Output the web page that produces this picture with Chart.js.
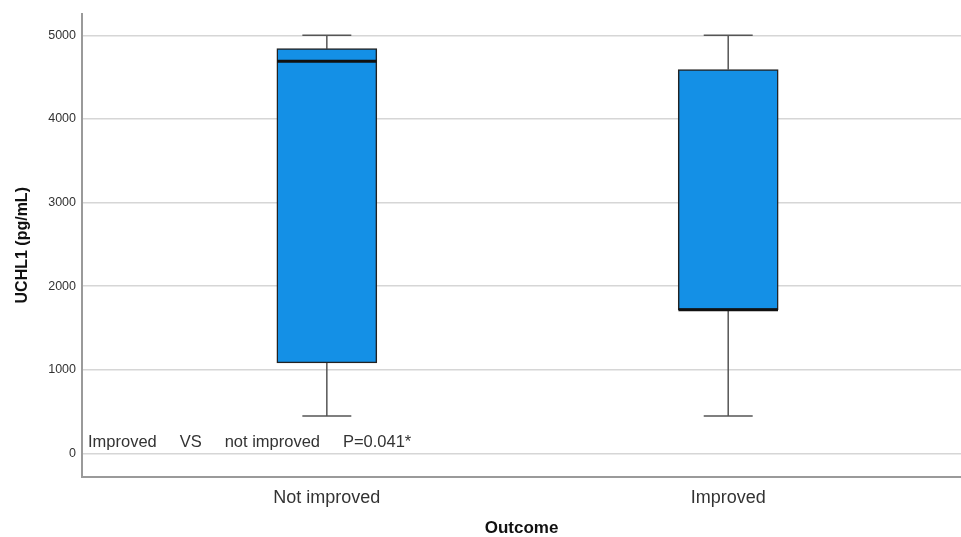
<!DOCTYPE html>
<html lang="en">
<head>
    <meta charset="UTF-8">
    <title>UCHL1 by Outcome</title>
    <script src="https://cdnjs.cloudflare.com/ajax/libs/Chart.js/4.4.1/chart.umd.js"></script>
    <style>
        body {
            margin: 0;
            background: #ffffff;
        }
        .chart-wrap {
            width: 961px;
            height: 537px;
        }
    </style>
</head>
<body>
    <div class="chart-wrap">
        <canvas id="boxChart" width="961" height="537"></canvas>
    </div>

    <script>
        // Box plot values (pg/mL)
        const categories = ['Not improved', 'Improved'];
        const whiskerMin = [450, 450];
        const q1 = [1085, 1720];
        const median = [4690, 1720];
        const q3 = [4840, 4590];
        const whiskerMax = [5000, 5000];
        const yTicks = [0, 1000, 2000, 3000, 4000, 5000];
        const note = 'Improved     VS     not improved     P=0.041*';

        const capHalf = 0.061;
        const boxHalf = 0.124;

        // whiskers: stems and caps, separated by gaps
        const whiskerPoints = [];
        categories.forEach((c, i) => {
            whiskerPoints.push({x: i, y: q3[i]}, {x: i, y: whiskerMax[i]}, {x: i, y: null});
            whiskerPoints.push({x: i, y: q1[i]}, {x: i, y: whiskerMin[i]}, {x: i, y: null});
            whiskerPoints.push({x: i - capHalf, y: whiskerMax[i]}, {x: i + capHalf, y: whiskerMax[i]}, {x: i, y: null});
            whiskerPoints.push({x: i - capHalf, y: whiskerMin[i]}, {x: i + capHalf, y: whiskerMin[i]}, {x: i, y: null});
        });

        const medianPoints = [];
        categories.forEach((c, i) => {
            medianPoints.push({x: i - boxHalf, y: median[i]}, {x: i + boxHalf, y: median[i]}, {x: i, y: null});
        });

        const noteText = {
            id: 'noteText',
            afterDatasetsDraw(chart) {
                const ctx = chart.ctx;
                const y = chart.scales.y.getPixelForValue(130);
                ctx.save();
                ctx.font = '16.5px "Liberation Sans", Arial, sans-serif';
                ctx.fillStyle = '#333333';
                ctx.textBaseline = 'middle';
                ctx.fillText(note, chart.chartArea.left + 6, y);
                ctx.restore();
            }
        };

        Chart.defaults.font.family = '"Liberation Sans", Arial, sans-serif';

        new Chart(document.getElementById('boxChart'), {
            type: 'bar',
            data: {
                datasets: [
                    {
                        type: 'line',
                        data: medianPoints,
                        borderColor: '#111111',
                        borderWidth: 3,
                        pointRadius: 0,
                        spanGaps: false,
                        order: 0
                    },
                    {
                        type: 'bar',
                        data: categories.map((c, i) => ({x: i, y: [q1[i], q3[i]]})),
                        backgroundColor: '#1490e6',
                        borderColor: '#222222',
                        borderWidth: 1.5,
                        borderSkipped: false,
                        barThickness: 100,
                        order: 1
                    },
                    {
                        type: 'line',
                        data: whiskerPoints,
                        borderColor: '#555555',
                        borderWidth: 1.5,
                        pointRadius: 0,
                        spanGaps: false,
                        order: 2
                    }
                ]
            },
            options: {
                responsive: false,
                animation: false,
                events: [],
                layout: {
                    padding: {top: 12, right: 0, bottom: 0, left: 0}
                },
                plugins: {
                    legend: {display: false},
                    tooltip: {enabled: false}
                },
                scales: {
                    x: {
                        type: 'linear',
                        offset: false,
                        min: -0.61,
                        max: 1.58,
                        afterFit(scale) { scale.height = 60; },
                        afterBuildTicks(scale) {
                            scale.ticks = categories.map((c, i) => ({value: i}));
                        },
                        grid: {display: false, drawTicks: false, offset: false},
                        border: {color: '#9a9a9a', width: 2},
                        ticks: {
                            padding: 10,
                            color: '#333333',
                            font: {size: 18},
                            callback: value => categories[value] || ''
                        },
                        title: {
                            display: true,
                            text: 'Outcome',
                            color: '#111111',
                            font: {size: 17, weight: 'bold', lineHeight: 1},
                            padding: {top: 0, bottom: 0}
                        }
                    },
                    y: {
                        min: -280,
                        max: 5260,
                        afterFit(scale) { scale.width = 82; },
                        afterBuildTicks(scale) {
                            scale.ticks = yTicks.map(v => ({value: v}));
                        },
                        grid: {color: '#d6d6d6', lineWidth: 1.5, drawTicks: false},
                        border: {color: '#9a9a9a', width: 2},
                        ticks: {
                            padding: 6,
                            color: '#333333',
                            font: {size: 12.5},
                            callback: value => String(value)
                        },
                        title: {
                            display: true,
                            text: 'UCHL1 (pg/mL)',
                            color: '#111111',
                            font: {size: 16, weight: 'bold', lineHeight: 1},
                            padding: {top: 15, bottom: 0}
                        }
                    }
                }
            },
            plugins: [noteText]
        });
    </script>
</body>
</html>
